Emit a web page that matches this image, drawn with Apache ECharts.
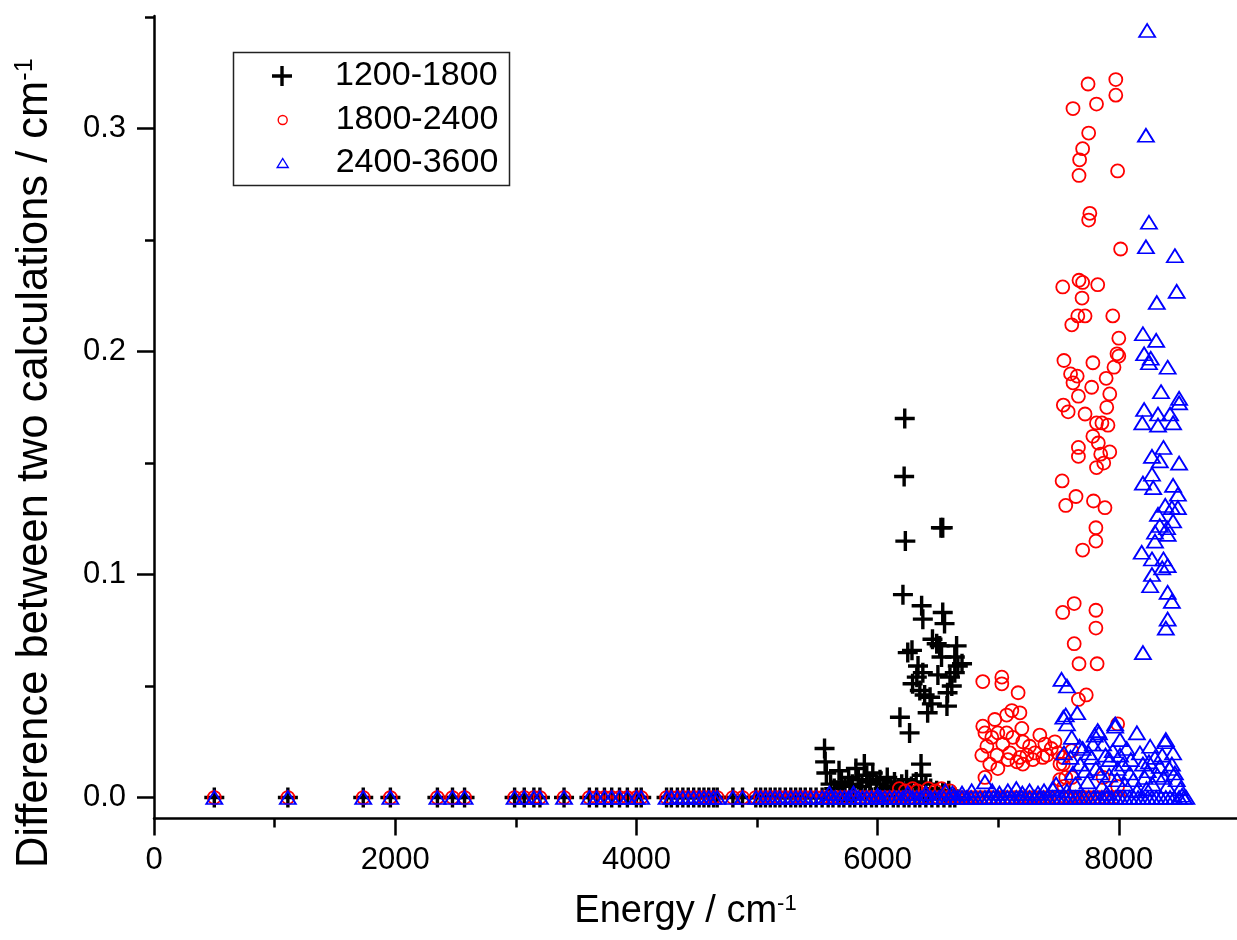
<!DOCTYPE html>
<html><head><meta charset="utf-8">
<script src="https://cdn.jsdelivr.net/npm/echarts@6/dist/echarts.min.js"></script>
<style>html,body{margin:0;padding:0;background:#fff}#c{width:1237px;height:940px}</style>
</head><body><div id="c"></div>
<script>
const seriesNames = ['1200-1800', '1800-2400', '2400-3600'];
const xMajorTicks = [0, 2000, 4000, 6000, 8000];
const xMinorTicks = [1000, 3000, 5000, 7000];
const yMajorTicks = [0, 0.1, 0.2, 0.3];
const yMinorTicks = [0.05, 0.15, 0.25, 0.35];

// energies (cm-1) where all three calculations agree (difference ~0)
const sharedLevels = [500, 1110, 1735, 1960, 2350, 2475, 2575, 2990, 3070, 3150, 3200, 3400, 3610, 3670, 3735, 3795, 3860, 3925, 4000, 4040, 4250, 4290, 4340, 4385, 4430, 4475, 4520, 4560, 4600, 4640, 4670, 4800, 4880, 4990, 5030, 5070, 5110, 5150, 5190, 5235, 5280, 5320, 5360, 5400, 5445, 5490];

// further levels with difference ~0, per series
const blackZeroLevels = [5540, 5590, 5630, 5680, 5720, 5770, 5810, 5860, 5900, 5950, 5990, 6040, 6080, 6130, 6170, 6220, 6260, 6310, 6350, 6400, 6450, 6500, 6550, 6600, 6640];
const redZeroLevels = [5540, 5580, 5620, 5660, 5700, 5740, 5780, 5820, 5860, 5900, 5940, 5980, 6020, 6060, 6100, 6140, 6180, 6220, 6260, 6300, 6340, 6380, 6420, 6460, 6500, 6540, 6580, 6620, 6660, 6700, 6740, 6780, 6820, 6860, 6900, 6940, 6980, 7020, 7060, 7100, 7140, 7180, 7220, 7260, 7300, 7340, 7380, 7420, 7460, 7500, 7560, 7600, 7640, 7680, 7720, 7760, 7800, 7840, 7880, 7920, 7960, 8000];
const blueZeroLevels = [5540, 5575, 5610, 5650, 5690, 5725, 5760, 5800, 5840, 5875, 5910, 5950, 5990, 6025, 6060, 6100, 6140, 6175, 6210, 6250, 6290, 6325, 6360, 6400, 6440, 6475, 6510, 6550, 6590, 6625, 6660, 6700, 6740, 6775, 6810, 6850, 6890, 6925, 6960, 7000, 7040, 7075, 7110, 7150, 7190, 7225, 7260, 7300, 7340, 7375, 7410, 7450, 7490, 7525, 7560, 7600, 7640, 7675, 7710, 7750, 7790, 7825, 7860, 7900, 7940, 7975, 8010, 8050, 8090, 8125, 8160, 8200, 8240, 8275, 8310, 8350, 8390, 8425, 8460, 8500, 8540, 8560];

// non-zero differences [energy, difference]
const blackPoints = [
  [5560,0.022],[5565,0.016],[5575,0.011],[5610,0.006],[5640,0.004],[5680,0.012],[5700,0.007],[5730,0.005],[5760,0.009],[5790,0.006],
  [5820,0.013],[5840,0.008],[5870,0.005],[5890,0.015],[5910,0.010],[5935,0.007],[5960,0.011],[5990,0.006],[6020,0.008],[6050,0.004],
  [6080,0.009],[6110,0.005],[6140,0.007],[6170,0.004],[6200,0.006],[6240,0.008],[6280,0.005],[6320,0.007],[6360,0.015],[6365,0.010],
  [6400,0.006],[6440,0.004],[6490,0.003],[6540,0.002],[6590,0.003],
  [6225,0.170],[6220,0.144],[6230,0.115],[6525,0.121],[6540,0.121],[6210,0.091],[6365,0.086],[6375,0.080],[6540,0.083],[6555,0.078],
  [6490,0.069],[6515,0.068],[6455,0.071],[6285,0.066],[6250,0.065],[6655,0.068],[6665,0.059],[6700,0.060],[6640,0.056],[6600,0.054],
  [6335,0.059],[6325,0.054],[6290,0.051],[6350,0.048],[6500,0.055],[6615,0.050],[6435,0.045],[6450,0.042],[6580,0.047],[6415,0.038],
  [6185,0.036],[6575,0.041],[6390,0.046],[6375,0.056],[6530,0.063],[6640,0.063],[6265,0.029]
];
const redPoints = [
  [6180,0.004],[6230,0.003],[6290,0.004],[6330,0.003],[6420,0.004],[6480,0.003],[6530,0.004],[6600,0.003],[6890,0.009],
  [7510,0.008],[7545,0.005],[7610,0.009],[7870,0.009],[7990,0.005],[7610,0.021],[7540,0.015],[7560,0.009],
  [6872,0.052],[7030,0.054],[7030,0.051],[7165,0.047],[7113,0.039],[7180,0.038],[7070,0.037],[6972,0.035],[6872,0.032],[6890,0.029],
  [7196,0.031],[6997,0.029],[7070,0.029],[7121,0.027],[6947,0.027],[6906,0.023],[7038,0.024],[7204,0.025],[7345,0.028],[7387,0.024],
  [7470,0.025],[6989,0.019],[7097,0.020],[6864,0.019],[7238,0.019],[7304,0.020],[7404,0.019],[6930,0.015],[6997,0.013],[7155,0.016],
  [7204,0.015],[7287,0.017],[7370,0.018],[7512,0.015],[7180,0.018],[7080,0.017],[7495,0.020],[7536,0.018],[7260,0.023],[7440,0.022],
  [7975,0.322],[7745,0.320],[7975,0.315],[7815,0.311],[7620,0.309],[7750,0.298],[7700,0.291],[7675,0.286],[7990,0.281],[7670,0.279],
  [7760,0.262],[7750,0.259],[8015,0.246],[7535,0.229],[7670,0.232],[7700,0.231],[7825,0.230],[7695,0.224],[7660,0.216],[7720,0.216],
  [7950,0.216],[7610,0.212],[8000,0.206],[7985,0.199],[8000,0.198],[7545,0.196],[7785,0.195],[7960,0.193],[7600,0.190],[7655,0.189],
  [7895,0.188],[7620,0.186],[7775,0.184],[7925,0.181],[7665,0.180],
  [7540,0.176],[7580,0.173],[7720,0.172],[7900,0.175],[7815,0.168],[7860,0.168],[7910,0.167],[7785,0.162],[7830,0.159],[7665,0.157],
  [7665,0.153],[7925,0.155],[7850,0.154],[7875,0.150],[7815,0.148],[7530,0.142],[7645,0.135],[7560,0.131],[7790,0.133],[7885,0.130],
  [7810,0.121],[7810,0.115],[7700,0.111],[7535,0.083],[7630,0.087],[7810,0.084],[7810,0.076],[7630,0.069],[7670,0.060],[7820,0.060],
  [7665,0.044],[7730,0.046],[7990,0.033]
];
const bluePoints = [
  [5600,0.002],[5800,0.002],[6000,0.001],[6250,0.002],[6400,0.002],[6560,0.003],[6620,0.002],[6700,0.002],[6780,0.003],
  [6890,0.007],[6950,0.003],[7010,0.002],[7080,0.003],[7150,0.004],[7200,0.002],[7260,0.003],[7330,0.002],[7380,0.003],[7450,0.004],[7480,0.006],
  [7525,0.053],[7570,0.050],[7655,0.038],[7540,0.036],[7570,0.033],[7610,0.027],[7545,0.020],[7560,0.037],[7835,0.029],[7970,0.032],
  [8010,0.026],[8150,0.029],[8385,0.025],[8450,0.020],[8260,0.023],[7785,0.024],[7870,0.024],[8065,0.022],[8175,0.020],[8300,0.018],
  [8465,0.011],[8215,0.009],[8525,0.001],[7775,0.018],[7680,0.015],[7925,0.017],[8035,0.015],[7620,0.011],[7845,0.011],[8090,0.011],
  [8340,0.014],[7985,0.008],[7740,0.007],[8400,0.005],[8150,0.003],[7570,0.003],[7900,0.002],
  [7700,0.022],[7750,0.020],[7810,0.013],[7890,0.019],[7950,0.021],[7990,0.013],[8100,0.017],[8120,0.008],[8200,0.015],[8240,0.012],
  [8280,0.006],[8320,0.010],[8360,0.019],[8420,0.013],[8480,0.008],[8510,0.004],[7600,0.018],[7640,0.006],[7720,0.012],[7860,0.005],
  [8050,0.006],[8230,0.004],[8440,0.015],[7800,0.028],[8250,0.016],[8370,0.009],[7920,0.010],[8010,0.019],[7825,0.030],[7970,0.033],
  [7675,0.023],[8390,0.026],
  [8235,0.344],[8225,0.297],[8250,0.258],[8225,0.247],[8465,0.243],[8480,0.227],[8315,0.222],[8200,0.208],[8310,0.205],[8210,0.199],
  [8265,0.197],[8250,0.195],[8405,0.193],[8350,0.182],[8500,0.179],
  [8500,0.177],[8210,0.174],[8325,0.172],[8425,0.172],[8195,0.168],[8325,0.167],[8450,0.168],[8370,0.157],[8275,0.153],[8340,0.151],
  [8500,0.150],[8275,0.145],[8200,0.141],[8285,0.139],[8450,0.140],[8490,0.136],[8385,0.131],[8490,0.130],[8440,0.130],[8325,0.127],
  [8450,0.124],[8340,0.122],[8400,0.121],[8300,0.119],[8405,0.118],[8300,0.115],[8190,0.110],[8275,0.107],[8370,0.107],[8405,0.104],
  [8360,0.103],[8275,0.100],[8260,0.095],[8405,0.092],[8440,0.088],[8405,0.080],[8390,0.076],[8200,0.065]
];

const FONT = 'Arial, "Liberation Sans", sans-serif';
const PLUS = 'path://M8.3,0H11.7V8.3H20V11.7H11.7V20H8.3V11.7H0V8.3H8.3Z';

function withZeros(levels, extra) {
  return levels.map(e => [e, 0]).concat(extra);
}
const blackData = withZeros(sharedLevels.concat(blackZeroLevels), blackPoints);
const redData = withZeros(sharedLevels.concat(redZeroLevels), redPoints);
const blueData = withZeros(sharedLevels.concat(blueZeroLevels), bluePoints);

const X_MIN = 0, X_MAX = 8980, Y_MIN = -0.0094, Y_MAX = 0.3505;
const axisCol = '#000';

const legendText = { fontFamily: FONT, fontSize: 34, color: '#000', lineHeight: 34 };

const chart = echarts.init(document.getElementById('c'), null, { renderer: 'canvas' });
chart.setOption({
  animation: false,
  backgroundColor: '#fff',
  grid: { left: 154, right: 0, top: 16, bottom: 121.5 },
  xAxis: [{
    type: 'value', min: X_MIN, max: X_MAX, position: 'bottom',
    name: 'Energy / cm{sup|-1}', nameLocation: 'middle', nameGap: 74,
    nameTextStyle: { fontFamily: FONT, fontSize: 38, color: '#000', padding: [0, 20, 0, 0],
      rich: { sup: { fontFamily: FONT, fontSize: 22, color: '#000', verticalAlign: 'top' } } },
    axisLine: { onZero: false, lineStyle: { color: axisCol, width: 2.5 } },
    axisTick: { customValues: xMajorTicks, length: 17, lineStyle: { color: axisCol, width: 2.5 } },
    axisLabel: { customValues: xMajorTicks, fontFamily: FONT, fontSize: 31, color: '#000', margin: 26,
      formatter: v => String(Math.round(v)) },
    splitLine: { show: false }
  }, {
    type: 'value', min: X_MIN, max: X_MAX, position: 'bottom',
    axisLine: { show: false, onZero: false },
    axisTick: { customValues: xMinorTicks, length: 9, lineStyle: { color: axisCol, width: 2.5 } },
    axisLabel: { show: false },
    splitLine: { show: false }
  }],
  yAxis: [{
    type: 'value', min: Y_MIN, max: Y_MAX, position: 'left',
    name: 'Difference between two calculations / cm{sup|-1}', nameLocation: 'middle', nameGap: 97, nameRotate: 90,
    nameTextStyle: { fontFamily: FONT, fontSize: 43.5, color: '#000', padding: [0, 92, 0, 0],
      rich: { sup: { fontFamily: FONT, fontSize: 25, color: '#000', verticalAlign: 'top' } } },
    axisLine: { onZero: false, lineStyle: { color: axisCol, width: 2.5 } },
    axisTick: { customValues: yMajorTicks, length: 17, lineStyle: { color: axisCol, width: 2.5 } },
    axisLabel: { customValues: yMajorTicks, fontFamily: FONT, fontSize: 31, color: '#000', margin: 28,
      formatter: v => Number(v).toFixed(1) },
    splitLine: { show: false }
  }, {
    type: 'value', min: Y_MIN, max: Y_MAX, position: 'left',
    axisLine: { show: false, onZero: false },
    axisTick: { customValues: yMinorTicks, length: 9, lineStyle: { color: axisCol, width: 2.5 } },
    axisLabel: { show: false },
    splitLine: { show: false }
  }],
  legend: [
    { left: 272, top: 59, padding: 0, itemWidth: 20, itemHeight: 20, selectedMode: false,
      textStyle: Object.assign({ padding: [0, 0, 0, 38] }, legendText),
      data: [{ name: seriesNames[0], icon: PLUS, itemStyle: { color: '#000', borderWidth: 0 } }] },
    { left: 277.5, top: 103, padding: 0, itemWidth: 9, itemHeight: 9, selectedMode: false,
      textStyle: Object.assign({ padding: [0, 0, 0, 43.5] }, legendText),
      data: [{ name: seriesNames[1], icon: 'circle', itemStyle: { color: 'rgba(0,0,0,0)', borderColor: '#ff0000', borderWidth: 1.4 } }] },
    { left: 276.5, top: 146, padding: 0, itemWidth: 11, itemHeight: 9, selectedMode: false,
      textStyle: Object.assign({ padding: [0, 0, 0, 42.5] }, legendText),
      data: [{ name: seriesNames[2], icon: 'triangle', itemStyle: { color: 'rgba(0,0,0,0)', borderColor: '#0000ff', borderWidth: 1.4 } }] }
  ],
  graphic: [{
    type: 'rect', shape: { x: 233.5, y: 52.5, width: 276, height: 133 },
    style: { fill: 'none', stroke: '#222', lineWidth: 1.5 }, z: 10, silent: true
  }],
  series: [
    { name: seriesNames[0], type: 'scatter', data: blackData, symbol: PLUS, symbolSize: 20,
      itemStyle: { color: '#000', opacity: 1 }, emphasis: { disabled: true } },
    { name: seriesNames[1], type: 'scatter', data: redData, symbol: 'circle', symbolSize: 13,
      itemStyle: { color: 'rgba(0,0,0,0)', borderColor: '#ff0000', borderWidth: 1.8, opacity: 1 }, emphasis: { disabled: true } },
    { name: seriesNames[2], type: 'scatter', data: blueData, symbol: 'triangle', symbolSize: [16, 13],
      itemStyle: { color: 'rgba(0,0,0,0)', borderColor: '#0000ff', borderWidth: 1.8, opacity: 1 }, emphasis: { disabled: true } }
  ]
});
</script>
</body></html>
